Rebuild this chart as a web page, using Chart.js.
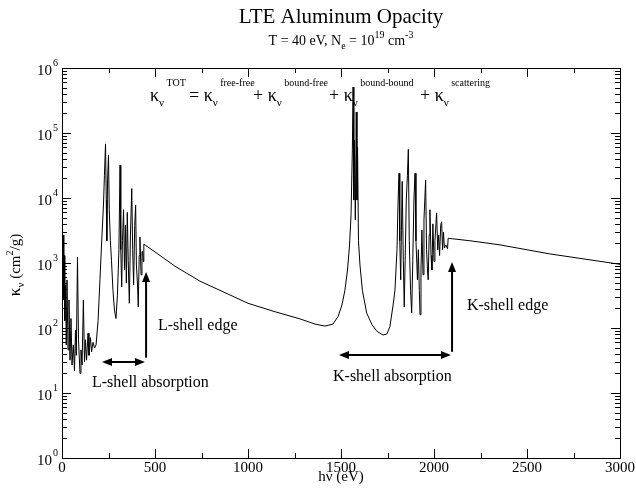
<!DOCTYPE html>
<html>
<head>
<meta charset="utf-8">
<script src="https://cdn.jsdelivr.net/npm/chart.js@4.4.1/dist/chart.umd.min.js"></script>
<style>
  html, body { margin: 0; padding: 0; background: #fff; }
  #wrap { width: 636px; height: 488px; }
</style>
</head>
<body>
<div id="wrap"><canvas id="c"></canvas></div>
<script>
// photon energy (eV) and total opacity (cm^2/g)
const energyEV = [
  2.7, 7, 9.7, 12.4, 15.1, 18.8, 23.1, 26.9, 32.3, 37.6, 43, 48.4, 53.8, 60.7, 67.2, 72.6, 76.9, 83.3, 88.7, 96.8,
  102, 108, 115, 121, 126, 132, 140, 145, 153, 159, 167, 175, 183, 194, 204, 215, 223, 228, 234, 238,
  241, 245, 250, 254, 260, 266, 274, 282, 290, 298, 306, 312, 316, 321, 325, 331, 336, 341, 346, 351,
  356, 362, 368, 375, 380, 385, 391, 396, 400, 406, 410, 415, 419, 425, 430, 433, 437, 440,
  500, 608, 742, 876, 1000, 1145, 1280, 1360, 1414,
  1457, 1484, 1505, 1521, 1535, 1546, 1554, 1561, 1565, 1569, 1572, 1577, 1582, 1586, 1589, 1594,
  1602, 1615, 1638, 1667, 1693, 1726, 1747, 1763, 1780, 1790,
  1801, 1807, 1812, 1816, 1821, 1825, 1829, 1835, 1840, 1846, 1851, 1857, 1862, 1867, 1874, 1880,
  1886, 1892, 1898, 1903, 1911, 1916, 1921, 1925, 1930, 1935, 1941, 1946, 1955, 1960, 1965, 1969,
  1974, 1978, 1984, 1989, 1994, 2000, 2005, 2014, 2020, 2025, 2030, 2036, 2041, 2046, 2051, 2056,
  2064, 2073, 2076, 2193, 2355, 2623, 3000
];
const kappaTot = [
  380, 2700, 270, 1300, 130, 460, 55, 550, 46, 270, 32, 140, 27, 55, 22, 93, 38, 1230, 66, 20,
  46, 27, 270, 30, 66, 32, 83, 38, 71, 43, 60, 49, 55, 130, 550, 2700, 7800, 22000, 68000, 9300,
  2200, 19000, 46000, 6600, 2200, 1100, 380, 190, 140, 320, 1600, 32000, 1600, 430, 2200, 6600, 780, 3800, 490, 6000,
  1100, 240, 2700, 14000, 1600, 460, 3800, 7800, 930, 460, 210, 1300, 2500, 660, 1500, 1500, 1050, 1950,
  1480, 890, 525, 350, 240, 178, 138, 115, 107,
  115, 150, 225, 380, 780, 1900, 5500, 55000, 510000, 9300, 78000, 4600, 210000, 9300, 60000, 2200,
  930, 380, 170, 112, 89, 78, 81, 105, 225, 380,
  1600, 9300, 24000, 2200, 550, 3200, 18000, 1100, 210, 1600, 9300, 22000, 56000, 2200, 380, 170,
  1100, 9300, 24000, 2200, 550, 1600, 380, 160, 780, 3200, 660, 4600, 19000, 1600, 780, 550,
  2700, 6600, 1300, 780, 4000, 1050, 2200, 5900, 1600, 2700, 1300, 3800, 4300, 1600, 3000, 1700,
  1900, 1660, 2400, 2200, 1900, 1380, 955
];
const xTickValues = [0, 500, 1000, 1500, 2000, 2500, 3000];
const yDecadeExponents = [0, 1, 2, 3, 4, 5, 6];

const SERIF = '"Liberation Serif", "Times New Roman", serif';

// annotation anchors in data units (eV, cm^2/g)
const labels = [
  { text: 'L-shell edge', e: 516, k: 93 },
  { text: 'L-shell absorption', e: 161, k: 12.4 },
  { text: 'K-shell edge', e: 2177, k: 190 },
  { text: 'K-shell absorption', e: 1457, k: 15.3 }
];
const arrows = [
  { e0: 452, k0: 35, e1: 452, k1: 725, both: false },
  { e0: 215, k0: 30, e1: 446, k1: 30, both: true },
  { e0: 2097, k0: 43, e1: 2097, k1: 1040, both: false },
  { e0: 1489, k0: 38.5, e1: 2091, k1: 38.5, both: true }
];

function rich(ctx, x, y, parts, align) {
  // parts: [text, size, dy]
  let w = 0;
  parts.forEach(p => { ctx.font = p[1] + 'px ' + SERIF; w += ctx.measureText(p[0]).width; });
  let cx = align === 'center' ? x - w / 2 : (align === 'right' ? x - w : x);
  parts.forEach(p => {
    ctx.font = p[1] + 'px ' + SERIF;
    ctx.fillText(p[0], cx, y + (p[2] || 0));
    cx += ctx.measureText(p[0]).width;
  });
}

function head(ctx, x0, y0, x1, y1) {
  const ang = Math.atan2(y1 - y0, x1 - x0), L = 10, W = 4;
  ctx.beginPath();
  ctx.moveTo(x1, y1);
  ctx.lineTo(x1 - L * Math.cos(ang) + W * Math.sin(ang), y1 - L * Math.sin(ang) - W * Math.cos(ang));
  ctx.lineTo(x1 - L * Math.cos(ang) - W * Math.sin(ang), y1 - L * Math.sin(ang) + W * Math.cos(ang));
  ctx.closePath();
  ctx.fill();
}

const graceFrame = {
  id: 'graceFrame',
  afterDraw(chart) {
    const { ctx, chartArea: a, scales: { x, y } } = chart;
    ctx.save();
    ctx.fillStyle = '#000';
    ctx.strokeStyle = '#000';
    ctx.textBaseline = 'alphabetic';

    // frame
    ctx.lineWidth = 1;
    ctx.strokeRect(Math.round(a.left) + 0.5, Math.round(a.top) + 0.5,
                   Math.round(a.right - a.left), Math.round(a.bottom - a.top));

    // inward ticks, x (bottom and top)
    ctx.beginPath();
    for (let v = 0; v <= 3000; v += 250) {
      const px = Math.round(x.getPixelForValue(v)) + 0.5;
      const len = v % 500 === 0 ? 9 : 5;
      ctx.moveTo(px, a.bottom); ctx.lineTo(px, a.bottom - len);
      ctx.moveTo(px, a.top); ctx.lineTo(px, a.top + len);
    }
    // inward ticks, y (left and right)
    yDecadeExponents.forEach(k => {
      for (let m = 1; m <= 9; m++) {
        if (k === 6 && m > 1) break;
        const py = Math.round(y.getPixelForValue(m * Math.pow(10, k))) + 0.5;
        const len = m === 1 ? 9 : 5;
        ctx.moveTo(a.left, py); ctx.lineTo(a.left + len, py);
        ctx.moveTo(a.right, py); ctx.lineTo(a.right - len, py);
      }
    });
    ctx.stroke();

    // y tick labels 10^k
    yDecadeExponents.forEach(k => {
      const py = y.getPixelForValue(Math.pow(10, k));
      ctx.font = '15px ' + SERIF;
      ctx.textAlign = 'right';
      ctx.fillText('10', 52, py + 7);
      ctx.textAlign = 'left';
      ctx.font = '10px ' + SERIF;
      ctx.fillText(String(k), 53, py - 2);
    });

    // axis titles
    ctx.textAlign = 'left';
    rich(ctx, (a.left + a.right) / 2, 481, [['hν (eV)', 15, 0]], 'center');
    ctx.save();
    ctx.translate(20, (a.top + a.bottom) / 2 + 2);
    ctx.rotate(-Math.PI / 2);
    rich(ctx, 0, 0, [['κ', 17, 0], ['ν', 11, 4], [' (cm', 15, 0], ['2', 10, -7], ['/g)', 15, 0]], 'center');
    ctx.restore();

    // titles
    rich(ctx, (a.left + a.right) / 2, 23, [['LTE Aluminum Opacity', 21, 0]], 'center');
    rich(ctx, (a.left + a.right) / 2, 45,
      [['T = 40 eV, N', 14, 0], ['e', 10, 4], [' = 10', 14, 0], ['19', 10, -7], [' cm', 14, 0], ['-3', 10, -7]], 'center');

    // opacity sum formula
    const terms = [[150, 'κ', 'TOT'], [189, '= κ', 'free-free'], [253, '+ κ', 'bound-free'],
                   [329, '+ κ', 'bound-bound'], [420, '+ κ', 'scattering']];
    terms.forEach(t => {
      rich(ctx, t[0], 101, [[t[1], 18, 0], ['ν', 11, 5], [' ' + t[2], 10, -15]], 'left');
    });

    // annotations
    labels.forEach(l => {
      rich(ctx, x.getPixelForValue(l.e), y.getPixelForValue(l.k), [[l.text, 16, 0]], 'left');
    });
    ctx.lineWidth = 2;
    arrows.forEach(ar => {
      const x0 = x.getPixelForValue(ar.e0), y0 = y.getPixelForValue(ar.k0);
      const x1 = x.getPixelForValue(ar.e1), y1 = y.getPixelForValue(ar.k1);
      const dx = x1 - x0, dy = y1 - y0, d = Math.hypot(dx, dy);
      const ux = dx / d, uy = dy / d;
      ctx.beginPath();
      ctx.moveTo(ar.both ? x0 + ux * 6 : x0, ar.both ? y0 + uy * 6 : y0);
      ctx.lineTo(x1 - ux * 6, y1 - uy * 6);
      ctx.stroke();
      head(ctx, x0, y0, x1, y1);
      if (ar.both) head(ctx, x1, y1, x0, y0);
    });
    ctx.restore();
  }
};

new Chart(document.getElementById('c'), {
  type: 'line',
  data: {
    datasets: [{
      data: energyEV.map((e, i) => ({ x: e, y: kappaTot[i] })),
      borderColor: '#000',
      borderWidth: 1,
      pointRadius: 0,
      tension: 0,
      fill: false
    }]
  },
  options: {
    responsive: true,
    maintainAspectRatio: false,
    animation: false,
    layout: { padding: { top: 68, right: 16, left: 0, bottom: 0 } },
    plugins: { legend: { display: false }, tooltip: { enabled: false }, title: { display: false } },
    scales: {
      x: {
        type: 'linear', min: 0, max: 3000,
        afterBuildTicks: s => { s.ticks = xTickValues.map(v => ({ value: v })); },
        ticks: {
          color: '#000', font: { family: SERIF, size: 15 }, padding: 1, maxRotation: 0, autoSkip: false,
          callback: v => String(v)
        },
        grid: { display: false, drawTicks: false },
        border: { display: false },
        afterFit: s => { s.height = 30; }
      },
      y: {
        type: 'logarithmic', min: 1, max: 1e6,
        ticks: { display: false },
        grid: { display: false, drawTicks: false },
        border: { display: false },
        afterFit: s => { s.width = 62; }
      }
    }
  },
  plugins: [graceFrame]
});
</script>
</body>
</html>
